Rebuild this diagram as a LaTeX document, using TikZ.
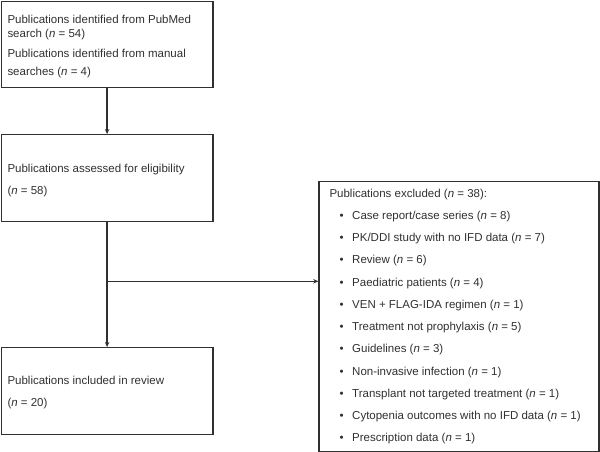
\documentclass[tikz,border=0pt]{standalone}
\usepackage{fontspec}
\setmainfont{Liberation Sans}
\usetikzlibrary{arrows.meta}
\definecolor{ink}{HTML}{303030}
\tikzset{
  box/.style={draw=ink, line width=1.3pt, rectangle, anchor=north west, inner sep=0pt},
  txt/.style={anchor=base west, inner sep=0pt, text=ink, font=\fontsize{11.5}{13}\selectfont},
  arr/.style={draw=ink, line width=1.3pt, -{Stealth[length=5pt,width=4.5pt]}},
  conn/.style={draw=ink, line width=1.3pt}
}
\newcommand{\nn}{\textit{n}}
\begin{document}
\begin{tikzpicture}[x=1pt,y=-1pt]
\useasboundingbox (0,0) rectangle (600,452);
% boxes
\node[box, minimum width=211.5pt, minimum height=86pt] (b1) at (0.7,0.7) {};
\node[box, minimum width=211.5pt, minimum height=87pt] (b2) at (0.7,134) {};
\node[box, minimum width=211.5pt, minimum height=87pt] (b3) at (0.7,347) {};
\node[box, minimum width=280pt, minimum height=270pt] (b4) at (318.3,180.7) {};
% texts
\node[txt] (t1a) at (7.3,24) {Publications identified from PubMed};
\node[txt] (t1b) at (7.3,37.5) {search (\nn{} = 54)};
\node[txt] (t1c) at (7.3,58) {Publications identified from manual};
\node[txt] (t1d) at (7.3,75) {searches (\nn{} = 4)};
\node[txt] (t2a) at (7.3,172) {Publications assessed for eligibility};
\node[txt] (t2b) at (7.3,194) {(\nn{} = 58)};
\node[txt] (t3a) at (7.3,384) {Publications included in review};
\node[txt] (t3b) at (7.3,406) {(\nn{} = 20)};
\node[txt] (t4h) at (329.3,197) {Publications excluded (\nn{} = 38):};
\foreach \i/\t in {1/{Case report/case series (\nn{} = 8)},
                   2/{PK/DDI study with no IFD data (\nn{} = 7)},
                   3/{Review (\nn{} = 6)},
                   4/{Paediatric patients (\nn{} = 4)},
                   5/{VEN + FLAG-IDA regimen (\nn{} = 1)},
                   6/{Treatment not prophylaxis (\nn{} = 5)},
                   7/{Guidelines (\nn{} = 3)},
                   8/{Non-invasive infection (\nn{} = 1)},
                   9/{Transplant not targeted treatment (\nn{} = 1)},
                   10/{Cytopenia outcomes with no IFD data (\nn{} = 1)},
                   11/{Prescription data (\nn{} = 1)}}{
  \node[txt] (bul\i) at (339.5,{197+22.27*\i}) {\textbullet};
  \node[txt] (it\i) at (352,{197+22.27*\i}) {\t};
}
% connectors
\draw[arr] (b1.south) -- (b2.north);
\draw[arr] (b2.south) -- (b3.north);
\coordinate (j) at (b2.south |- 0,281.3);
\draw[arr] (j) -- (j -| b4.west);
\end{tikzpicture}
\end{document}
